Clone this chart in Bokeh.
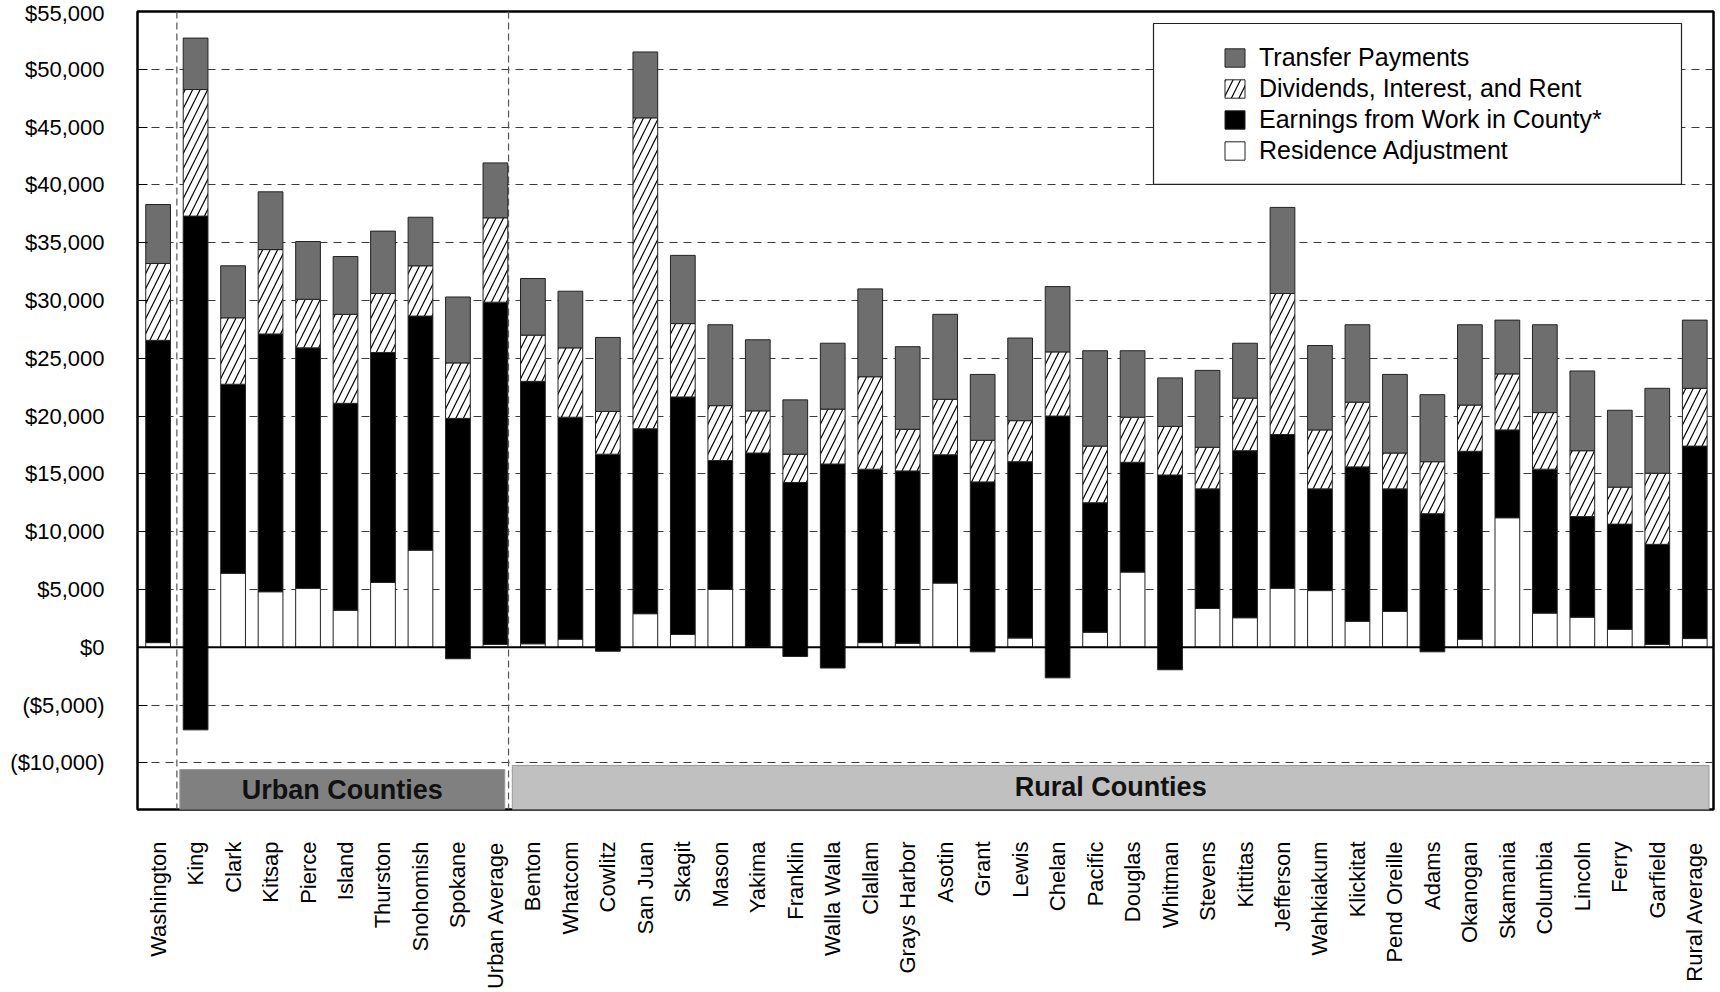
import math
from bokeh.plotting import figure
from bokeh.models import (ColumnDataSource, FixedTicker, Span, Legend, LegendItem,
                          Range1d)
from bokeh.core.properties import value
from bokeh.embed import file_html
from bokeh.resources import INLINE

counties = ["Washington", "King", "Clark", "Kitsap", "Pierce", "Island", "Thurston",
            "Snohomish", "Spokane", "Urban Average", "Benton", "Whatcom", "Cowlitz",
            "San Juan", "Skagit", "Mason", "Yakima", "Franklin", "Walla Walla", "Clallam",
            "Grays Harbor", "Asotin", "Grant", "Lewis", "Chelan", "Pacific", "Douglas",
            "Whitman", "Stevens", "Kittitas", "Jefferson", "Wahkiakum", "Klickitat",
            "Pend Oreille", "Adams", "Okanogan", "Skamania", "Columbia", "Lincoln",
            "Ferry", "Garfield", "Rural Average"]

residence = [400, -7150, 6400, 4800, 5100, 3200, 5600, 8400, -1000, 250,
             300, 700, -350, 2900, 1100, 5000, 50, -800, -1800, 400,
             350, 5550, -400, 800, -2650, 1300, 6500, -1950, 3350, 2550,
             5100, 4900, 2250, 3100, -400, 700, 11200, 2950, 2600, 1550,
             250, 750]
earnings = [26150, 44450, 16350, 22300, 20800, 17900, 19900, 20250, 20800, 29600,
            22700, 19200, 17050, 16000, 20550, 11150, 16750, 15050, 17650, 15000,
            14900, 11100, 14700, 15250, 22650, 11200, 9500, 16850, 10350, 14450,
            13300, 8800, 13350, 10600, 11950, 16250, 7600, 12450, 8700, 9100,
            8650, 16650]
dividends = [6650, 10950, 5750, 7300, 4200, 7700, 5100, 4350, 4800, 7300,
             4000, 6000, 3700, 26900, 6350, 4750, 3650, 2450, 4750, 8000,
             3600, 4800, 3600, 3550, 5550, 4900, 3900, 4200, 3600, 4550,
             12200, 5100, 5600, 3100, 4500, 4000, 4850, 4900, 5700, 3200,
             6150, 5000]
transfers = [5100, 4450, 4500, 5000, 5000, 5000, 5400, 4200, 5700, 4750,
             4900, 4900, 6400, 5700, 5900, 7000, 6150, 4700, 5700, 7600,
             7150, 7350, 5700, 7150, 5650, 8250, 5750, 4200, 6650, 4750,
             7450, 7300, 6700, 6800, 5800, 6950, 4650, 7600, 6900, 6650,
             7350, 5900]

y_ticks = [-10000, -5000, 0, 5000, 10000, 15000, 20000, 25000, 30000, 35000,
           40000, 45000, 50000, 55000]
y_tick_labels = ["($10,000)", "($5,000)", "$0", "$5,000", "$10,000", "$15,000",
                 "$20,000", "$25,000", "$30,000", "$35,000", "$40,000", "$45,000",
                 "$50,000", "$55,000"]

groups = ["Urban Counties", "Rural Counties"]
group_first = ["King", "Benton"]
group_last = ["Urban Average", "Rural Average"]
group_colors = ["#808080", "#c0c0c0"]

legend_labels = ["Transfer Payments", "Dividends, Interest, and Rent",
                 "Earnings from Work in County*", "Residence Adjustment"]

n = len(counties)
xs = list(range(n))
res_top = [max(r, 0) for r in residence]
earn_top = [r + e for r, e in zip(residence, earnings)]
div_top = [t + d for t, d in zip(earn_top, dividends)]
tot_top = [t + d for t, d in zip(div_top, transfers)]
zeros = [0] * n

src = ColumnDataSource(dict(x=xs, zero=zeros, res_top=res_top, res=residence,
                            earn_top=earn_top, div_top=div_top, tot_top=tot_top))

FONT = "Liberation Sans"
X0, X1 = -0.55, n - 0.5
Y0, Y1 = -14040, 55000
FL, FR, FT, FB = 137, 1713, 11, 810  # frame edges in page pixels
WIDTH, HEIGHT = 1716, 992

p = figure(width=WIDTH, height=HEIGHT, x_range=Range1d(X0, X1), y_range=Range1d(Y0, Y1),
           output_backend="svg", toolbar_location=None,
           min_border_left=FL, min_border_right=WIDTH - FR, min_border_top=FT,
           min_border_bottom=HEIGHT - FB)
p.background_fill_color = "white"
p.border_fill_color = "white"
p.outline_line_color = "black"
p.outline_line_width = 2.5

# axes
p.xaxis.ticker = FixedTicker(ticks=xs)
p.xaxis.major_label_overrides = {i: c for i, c in enumerate(counties)}
p.xaxis.major_label_orientation = math.pi / 2
p.xaxis.axis_line_color = None
p.xaxis.major_tick_line_color = None
p.xaxis.minor_tick_line_color = None
p.xaxis.major_label_standoff = 26
p.xaxis.major_label_text_font = FONT
p.xaxis.major_label_text_font_size = "22px"
p.xaxis.major_label_text_color = "black"

p.yaxis.ticker = FixedTicker(ticks=y_ticks)
p.yaxis.major_label_overrides = {t: l for t, l in zip(y_ticks, y_tick_labels)}
p.yaxis.axis_line_color = None
p.yaxis.major_tick_in = 10
p.yaxis.major_tick_out = 0
p.yaxis.major_tick_line_color = "black"
p.yaxis.minor_tick_line_color = None
p.yaxis.major_label_standoff = 33
p.yaxis.major_label_text_font = FONT
p.yaxis.major_label_text_font_size = "22px"
p.yaxis.major_label_text_color = "black"

p.xgrid.grid_line_color = None
p.ygrid.ticker = FixedTicker(ticks=y_ticks)
p.ygrid.grid_line_color = "#3a3a3a"
p.ygrid.grid_line_dash = "8 6"
p.ygrid.grid_line_width = 1.2

# group separators and bands
band_tops = [-10580, -10230]
band_pad_left = [0.42, 0.55]
band_pad_right = [0.25, 0.38]
sep_offset = [0.5, 0.65]
for k, (gf, gl, gname, gc) in enumerate(zip(group_first, group_last, groups, group_colors)):
    i0 = counties.index(gf)
    i1 = counties.index(gl)
    top = band_tops[k]
    left = i0 - band_pad_left[k]
    right = i1 + band_pad_right[k]
    p.quad(left=[left], right=[right], bottom=[Y0], top=[top], fill_color=gc,
           line_color="#9a9a9a", line_width=1)
    p.text(x=[(left + right) / 2], y=[(top + Y0) / 2], text=[gname],
           text_align="center", text_baseline="middle", text_font=value(FONT),
           text_font_size="27px", text_font_style="bold", text_color="#111111")
    p.add_layout(Span(location=i0 - sep_offset[k], dimension="height",
                      line_color="#555555", line_dash="7 4", line_width=1.2))

# zero line
p.add_layout(Span(location=0, dimension="width", line_color="black", line_width=2))

W = 0.66
r_res = p.vbar(x="x", bottom="zero", top="res_top", width=W, source=src,
               fill_color="white", line_color="#222222", line_width=1)
r_earn = p.vbar(x="x", bottom="res", top="earn_top", width=W, source=src,
                fill_color="black", line_color="#222222", line_width=1)
r_div = p.vbar(x="x", bottom="earn_top", top="div_top", width=W, source=src,
               fill_color="white", line_color="#222222", line_width=1,
               hatch_pattern="/", hatch_color="black", hatch_scale=15, hatch_weight=1.2)
r_tr = p.vbar(x="x", bottom="div_top", top="tot_top", width=W, source=src,
              fill_color="#6e6e6e", line_color="#222222", line_width=1)

# legend background box
px_per_x = (FR - FL) / (X1 - X0)
px_per_y = (FB - FT) / (Y1 - Y0)
lb_left = X0 + (1153 - FL) / px_per_x
lb_right = X0 + (1681 - FL) / px_per_x
lb_top = Y1 - (23 - FT) / px_per_y
lb_bot = Y1 - (184 - FT) / px_per_y
p.quad(left=[lb_left], right=[lb_right], bottom=[lb_bot], top=[lb_top],
       fill_color="white", line_color="#222222", line_width=1.2)

ROW_H, GAP = 29, 2
leg_h = 4 * ROW_H + 3 * GAP
leg_top = 58 - ROW_H / 2
items = [LegendItem(label=legend_labels[0], renderers=[r_tr]),
         LegendItem(label=legend_labels[1], renderers=[r_div]),
         LegendItem(label=legend_labels[2], renderers=[r_earn]),
         LegendItem(label=legend_labels[3], renderers=[r_res])]
legend = Legend(items=items, location=(1222 - FL, FB - (leg_top + leg_h)),
                padding=0, margin=0,
                border_line_color=None, background_fill_alpha=0,
                glyph_width=25, glyph_height=23, label_height=ROW_H, spacing=GAP,
                label_standoff=12, label_text_font=FONT,
                label_text_font_size="25px", label_text_color="black")
p.add_layout(legend)

open("out.html", "w").write(file_html(p, INLINE))
